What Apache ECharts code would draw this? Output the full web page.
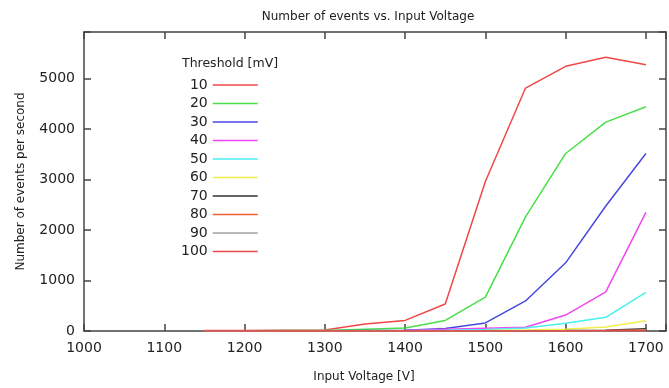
<!DOCTYPE html>
<html>
<head>
<meta charset="utf-8">
<title>Number of events vs. Input Voltage</title>
<script src="https://cdn.jsdelivr.net/npm/echarts@6/dist/echarts.min.js"></script>
<style>
  html, body { margin: 0; padding: 0; background: #fff; }
  #chart { width: 669px; height: 388px; }
</style>
</head>
<body>
<div id="chart"></div>
<script>
// input voltage [V] of every measurement
var voltages = [1150, 1200, 1250, 1300, 1350, 1400, 1450, 1500, 1550, 1600, 1650, 1700];

// events per second, one list per threshold
var t10 = [10, 12, 15, 20, 140, 210, 535, 2960, 4810, 5240, 5420, 5270];
var t20 = [5, 6, 8, 10, 35, 60, 210, 670, 2260, 3515, 4135, 4440];
var t30 = [2, 3, 4, 5, 10, 15, 50, 160, 595, 1350, 2475, 3515];
var t40 = [1, 1, 2, 3, 5, 10, 35, 55, 75, 315, 775, 2350];
var t50 = [0, 1, 1, 2, 3, 5, 15, 30, 60, 155, 270, 765];
var t60 = [0, 0, 1, 1, 2, 3, 5, 10, 20, 35, 80, 205];
var t70 = [0, 0, 0, 0, 1, 1, 2, 3, 5, 8, 15, 45];
var t80 = [0, 0, 0, 0, 0, 0, 1, 2, 3, 5, 9, 22];
var t90 = [0, 0, 0, 0, 0, 0, 0, 1, 2, 3, 5, 10];
var t100 = [0, 0, 0, 0, 0, 0, 0, 0, 1, 2, 3, 5];

var thresholds = ['10', '20', '30', '40', '50', '60', '70', '80', '90', '100'];
var values = [t10, t20, t30, t40, t50, t60, t70, t80, t90, t100];
var colors = ['#f04848', '#48e048', '#4848e0', '#f048f0', '#48f0f0',
              '#f0f048', '#333333', '#f06030', '#a0a0a0', '#e84848'];

var font = 'DejaVu Sans';
var ink = '#222';
var frame = '#444';

// build one line per threshold
var series = [];
thresholds.forEach((name, i) => {
    series.push({
        name: name,
        type: 'line',
        symbol: 'none',
        data: voltages.map((v, j) => [v, values[i][j]]),
        lineStyle: { color: colors[i], width: 1.5 },
        itemStyle: { color: colors[i] },
        animation: false
    });
});

// axis helper, ticks point inward on all four sides like gnuplot
function frameAxis(extra) {
    var ax = {
        type: 'value',
        splitLine: { show: false },
        axisLine: { show: true, onZero: false, lineStyle: { color: frame, width: 1.5 } },
        axisTick: { show: true, inside: true, length: 7, lineStyle: { color: frame, width: 1.5 } },
        axisLabel: { show: false }
    };
    return Object.assign(ax, extra);
}

var chart = echarts.init(document.getElementById('chart'));
var option = {
    backgroundColor: '#fff',
    animation: false,
    title: [
        { text: 'Number of events vs. Input Voltage', left: 363, top: 6, textAlign: 'center',
          textStyle: { fontFamily: font, fontSize: 12, fontWeight: 'normal', color: ink } },
        { text: 'Threshold [mV]', left: 177, top: 52,
          textStyle: { fontFamily: font, fontSize: 12.5, fontWeight: 'normal', color: ink } }
    ],
    legend: {
        orient: 'vertical',
        align: 'right',
        left: 181,
        top: 78,
        padding: 0,
        icon: 'rect',
        itemWidth: 45,
        itemHeight: 1.5,
        itemGap: 4.5,
        selectedMode: false,
        data: thresholds,
        textStyle: { fontFamily: font, fontSize: 14, lineHeight: 14, color: ink }
    },
    grid: { left: 84, right: 1, top: 32, bottom: 53 },
    xAxis: [
        frameAxis({
            min: 1000, max: 1725, interval: 100, position: 'bottom',
            name: 'Input Voltage [V]', nameLocation: 'middle', nameGap: 40,
            nameTextStyle: { fontFamily: font, fontSize: 12, color: ink, padding: [0, 22, 0, 0] },
            axisLabel: {
                show: true, margin: 10, fontFamily: font, fontSize: 14, color: ink,
                formatter: (v) => (v % 100 === 0 ? String(v) : '')
            }
        }),
        frameAxis({ min: 1000, max: 1725, interval: 100, position: 'top' })
    ],
    yAxis: [
        frameAxis({
            min: 0, max: 5920, interval: 1000, position: 'left',
            name: 'Number of events per second', nameLocation: 'middle', nameGap: 57,
            nameTextStyle: { fontFamily: font, fontSize: 12, color: ink },
            axisLabel: {
                show: true, margin: 9, fontFamily: font, fontSize: 14, color: ink,
                formatter: (v) => (v % 1000 === 0 ? String(v) : '')
            }
        }),
        frameAxis({ min: 0, max: 5920, interval: 1000, position: 'right' })
    ],
    series: series
};
chart.setOption(option);
</script>
</body>
</html>
